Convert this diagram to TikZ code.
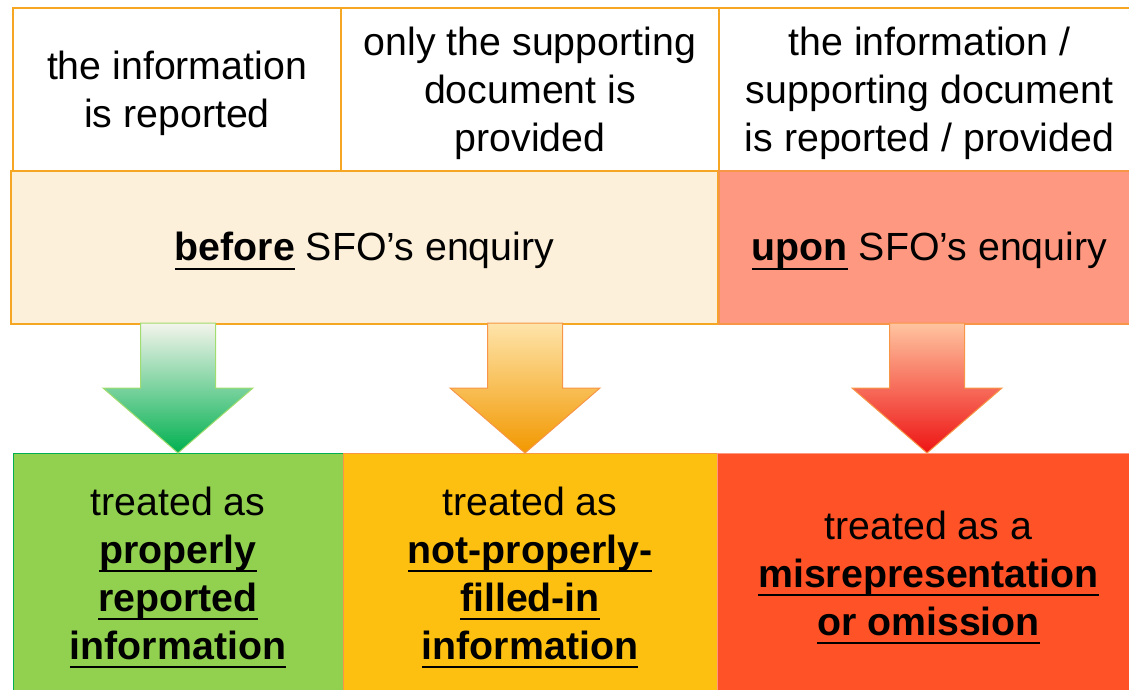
\documentclass[tikz,border=0pt]{standalone}
\usepackage{fontspec}
\setmainfont{Liberation Sans}
\definecolor{orng}{RGB}{245,166,35}
\definecolor{cream}{RGB}{253,240,218}
\definecolor{salmon}{RGB}{255,152,128}
\definecolor{grn}{RGB}{146,208,80}
\definecolor{grnd}{RGB}{0,176,80}
\definecolor{ylw}{RGB}{254,192,16}
\definecolor{redb}{RGB}{255,82,39}
\definecolor{arrowor}{RGB}{247,150,70}
\definecolor{arrowgr}{RGB}{160,220,110}
\definecolor{gtop}{RGB}{244,244,236}
\definecolor{gmid}{RGB}{185,222,140}
\definecolor{ytop}{RGB}{254,228,170}
\definecolor{ymid}{RGB}{255,208,70}
\definecolor{ybot}{RGB}{242,152,0}
\definecolor{rtop}{RGB}{255,196,160}
\definecolor{rmid}{RGB}{255,120,80}
\definecolor{rbot}{RGB}{238,20,20}
\newsavebox\ulbox
\newcommand\ulb[1]{\sbox\ulbox{\textbf{#1}}\rlap{\rule[-9pt]{\wd\ulbox}{2pt}}\usebox\ulbox}
\tikzset{
  cell/.style={line width=1.5pt, inner sep=0pt, outer sep=0pt},
  txt/.style={align=center, inner sep=0pt, yshift=-3.5pt,
    font=\fontsize{39.3}{48}\selectfont},
  topcell/.style={cell, draw=orng, fill=white, minimum height=163pt},
  midcell/.style={cell, draw=orng, minimum height=153pt},
  botcell/.style={cell, line width=1pt, minimum height=242pt},
  blockarrow/.style n args={4}{draw=#1, line width=1pt, line join=miter,
    top color=#2, middle color=#3, bottom color=#4}
}
\newcommand\downarrowshape[2]{%
  \path[blockarrow=#2] (#1-37.5,323) -- (#1+37.5,323) -- (#1+37.5,388) -- (#1+75,388)
    -- (#1,453) -- (#1-75,388) -- (#1-37.5,388) -- cycle;}
\begin{document}
\begin{tikzpicture}[x=1pt,y=-1pt]
\useasboundingbox (0,0) rectangle (1129,689);
\clip (0,0) rectangle (1129,689);
% top row
\node[topcell, minimum width=328pt,
  label={[txt]center:{the information\\is reported}}] (t1) at (177,89.5) {};
\node[topcell, minimum width=378pt,
  label={[txt]center:{only the supporting\\document is\\provided}}] (t2) at (530,89.5) {};
\node[topcell, minimum width=421pt,
  label={[txt]center:{the information /\\supporting document\\is reported / provided}}] (t3) at (929.5,89.5) {};
% middle row
\node[midcell, fill=cream, minimum width=707pt,
  label={[txt]center:{\ulb{before} SFO’s enquiry}}] (m1) at (364.5,247.5) {};
\node[midcell, fill=salmon, draw=arrowor, minimum width=421pt,
  label={[txt]center:{\ulb{upon} SFO’s enquiry}}] (m2) at (929.5,247.5) {};
% bottom row
\node[botcell, fill=grn, draw=grnd, minimum width=330pt,
  label={[txt]center:{treated as\\\ulb{properly}\\\ulb{reported}\\\ulb{information}}}] (b1) at (178,574) {};
\node[botcell, fill=ylw, draw=arrowor, minimum width=374pt,
  label={[txt]center:{treated as\\\ulb{not-properly-}\\\ulb{filled-in}\\\ulb{information}}}] (b2) at (530,574) {};
\node[botcell, fill=redb, draw=salmon, minimum width=423pt,
  label={[txt]center:{treated as a\\\ulb{misrepresentation}\\\ulb{or omission}}}] (b3) at (928.5,574) {};
% arrows
\downarrowshape{178}{{arrowgr}{gtop}{gmid}{grnd}}
\downarrowshape{525}{{arrowor}{ytop}{ymid}{ybot}}
\downarrowshape{927}{{arrowor}{rtop}{rmid}{rbot}}
\end{tikzpicture}
\end{document}
